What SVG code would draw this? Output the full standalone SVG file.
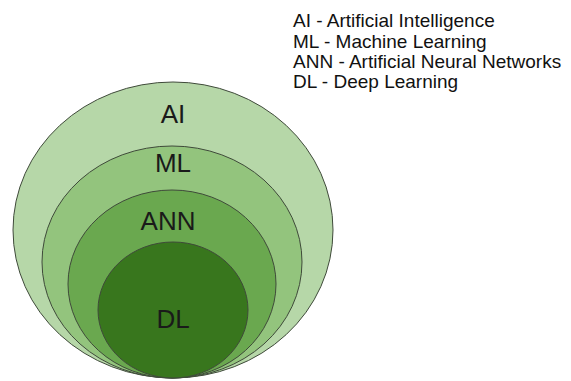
<svg xmlns="http://www.w3.org/2000/svg" width="571" height="381" viewBox="0 0 571 381">
<style>
.c{stroke:#3f4a3a;stroke-width:1}
.lbl{font-family:"Liberation Sans",Arial,sans-serif;font-size:26px;fill:#1a1a1a;text-anchor:middle}
.leg{font-family:"Liberation Sans",Arial,sans-serif;font-size:19px;fill:#111}
</style>
<rect width="571" height="381" fill="#fff"/>
<g id="ai"><ellipse class="c" cx="173" cy="230" rx="160" ry="148" fill="#b6d7a8"/><text class="lbl" x="173" y="123">AI</text></g>
<g id="ml"><ellipse class="c" cx="172" cy="262" rx="130" ry="116" fill="#93c47d"/><text class="lbl" x="173" y="172">ML</text></g>
<g id="ann"><ellipse class="c" cx="172" cy="284" rx="104" ry="94" fill="#6aa84f"/><text class="lbl" x="168" y="230">ANN</text></g>
<g id="dl"><ellipse class="c" cx="173" cy="310" rx="75" ry="68" fill="#38761d"/><text class="lbl" x="173" y="328">DL</text></g>
<g id="connectors"/>
<g id="legend" class="leg">
<text x="293" y="27">AI - Artificial Intelligence</text>
<text x="293" y="47.5">ML - Machine Learning</text>
<text x="293" y="68">ANN - Artificial Neural Networks</text>
<text x="293" y="88">DL - Deep Learning</text>
</g>
</svg>
